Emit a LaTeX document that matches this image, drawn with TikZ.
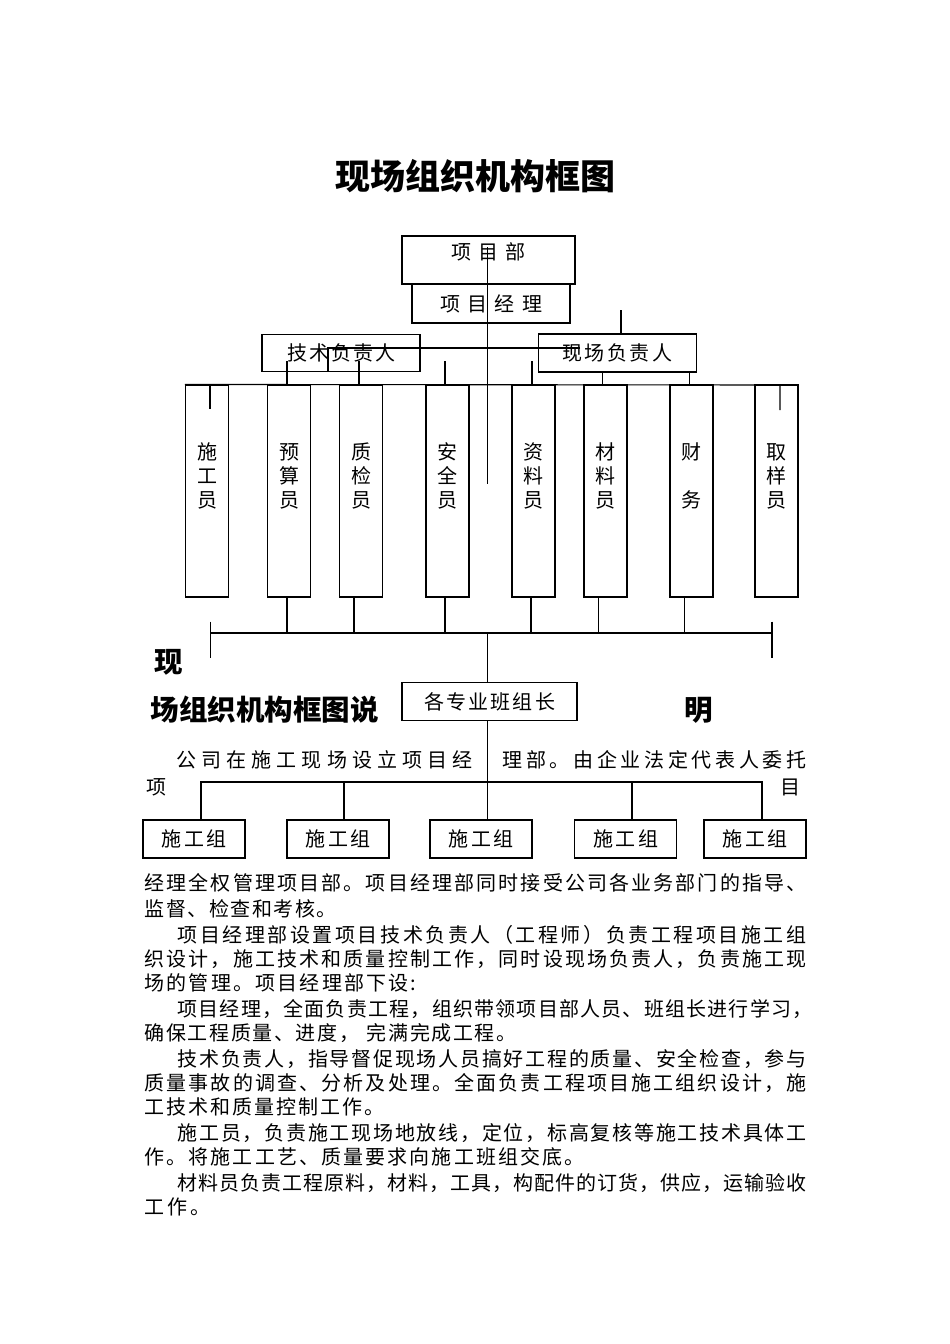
\documentclass[tikz,border=0pt]{standalone}
\usepackage{fontspec}
\setmainfont{Noto Sans CJK SC}
% spread the letters of #2 evenly over the width #1
\newcommand{\spreadtext}[2]{\hbox to #1{\spreadhead#2\relax}}
\def\spreadhead#1{#1\spreadtail}
\def\spreadtail#1{\ifx#1\relax\else\hfil#1\expandafter\spreadtail\fi}
\tikzset{
        % boxes of the chart
        orgbox/.style={draw, inner sep=0pt, font=\fontsize{20}{24}\selectfont},
        % tall boxes of the staff
        tallbox/.style={orgbox, minimum width=43pt, minimum height=212pt},
        % upright text in the tall boxes
        vlabel/.style={align=center, inner sep=0pt, font=\fontsize{20}{24}\selectfont},
        % boxes of the work groups
        groupbox/.style={orgbox, minimum width=102pt, minimum height=38pt},
        % lines of the text
        bodytext/.style={anchor=west, inner sep=0pt, font=\fontsize{20}{24}\selectfont},
        plaintext/.style={inner sep=0pt, font=\fontsize{20}{24}\selectfont},
        % bold headings
        headtext/.style={inner sep=0pt, font=\bfseries\fontsize{28.5}{32}\selectfont}
}
\begin{document}
\begin{tikzpicture}[x=1pt, y=-1pt, line width=1.1pt]
    \useasboundingbox[fill=white] (0,0) rectangle (950,1344);

    \node[headtext, font=\bfseries\fontsize{35}{40}\selectfont] (title) at (475,176) {现场组织机构框图};

    % heads
    \node[orgbox, minimum width=173pt, minimum height=48pt] (xmb) at (488.5,260) {};
    \node[plaintext] (xmbt) at ([yshift=8pt]xmb.center) {\spreadtext{74pt}{项目部}};
    \node[orgbox, minimum width=158pt, minimum height=39pt] (xmjl) at (491,303.5) {\spreadtext{102pt}{项目经理}};
    \node[orgbox, minimum width=158pt, minimum height=37.7pt] (jsfzr) at (341,353) {\spreadtext{108pt}{技术负责人}};
    \node[orgbox, minimum width=158.7pt, minimum height=38pt] (xcfzr) at (617.4,353) {\spreadtext{110pt}{现场负责人}};

    % staff
    \foreach \n/\x/\lbl in {sgy/207/{施\\工\\员}, ysy/289/{预\\算\\员}, zjy/361/{质\\检\\员},
                            aqy/447.5/{安\\全\\员}, zly/533.5/{资\\料\\员}, cly/605.5/{材\\料\\员},
                            cw/691.5/{财\\[24pt]务}, qyy/776.5/{取\\样\\员}}{
        \node[tallbox] (\n) at (\x,491) {};
        \node[vlabel] (\n t) at ([yshift=15pt]\n.center) {\lbl};
    }

    % upper lines
    \coordinate (stemtop) at (487.5,247);
    \coordinate (stemend) at (487.5,484);
    \draw (stemtop) -- (stemend);
    \coordinate (xcup) at (621,310);
    \draw (xcup) -- (xcup |- xcfzr.north);
    \coordinate (jsend) at (580,348);
    \draw (jsend) -| ([xshift=-13pt]jsfzr.south);
    \foreach \n/\x in {ysy/287, zjy/359, aqy/445, zly/532}{
        \coordinate (up\n) at (\x,361);
        \draw (up\n) -- (up\n |- \n.north);
    }
    \draw ([xshift=-14.7pt]xcfzr.south) -- ++(0,13);
    \draw ([xshift=71.9pt]xcfzr.south) -- ++(0,13);
    \coordinate (topend) at (780,385);
    \draw (sgy.north west) -- (topend) -- ++(0,25);
    \draw ([xshift=3pt]sgy.north) -- ++(0,25);

    % lower bus
    \foreach \n/\dx in {ysy/-2, zjy/-7, aqy/-2.5, zly/-2.5, cly/-7.2, cw/-7.2}
        \draw ([xshift=\dx pt]\n.south) -- ++(0,36);
    \coordinate (busl) at (210.7,633);
    \coordinate (busr) at (772,633);
    \coordinate (busm) at (487.3,633);
    \draw (busl) -- (busr);
    \draw ([yshift=11.3pt]busl) -- ([yshift=-25.3pt]busl);
    \draw ([yshift=11.3pt]busr) -- ([yshift=-25.3pt]busr);

    \node[headtext] (xian) at (169,662) {现};
    \node[headtext] (hsm) at (264.5,710) {场组织机构框图说};
    \node[headtext] (ming) at (699,710) {明};

    \node[orgbox, minimum width=175pt, minimum height=38pt] (gzz) at (489.5,701.5) {\spreadtext{131pt}{各专业班组长}};
    \draw (busm) -- (busm |- gzz.north);

    \node[bodytext] (mid1) at (176,760) {\spreadtext{296pt}{公司在施工现场设立项目经}};
    \node[bodytext] (mid2) at (502,760) {\spreadtext{304pt}{理部。由企业法定代表人委托}};
    \node[plaintext] (xiang) at (156,787) {项};
    \node[plaintext] (mu) at (790,787) {目};

    % work groups
    \foreach \i/\x in {1/194, 2/338, 3/481, 4/625.5, 5/755}
        \node[groupbox] (g\i) at (\x,839) {\spreadtext{65pt}{施工组}};
    \coordinate (bus2) at (487.3,782);
    \draw (busm |- gzz.south) -- (busm |- g3.north);
    \draw ([xshift=7pt]g1.north) |- (bus2) -| ([xshift=7pt]g5.north);
    \draw ([xshift=6pt]g2.north) -- ++(0,-38);
    \draw ([xshift=6.5pt]g4.north) -- ++(0,-38);

    % text
    \node[bodytext] (t1) at (144,883) {\spreadtext{662pt}{经理全权管理项目部。项目经理部同时接受公司各业务部门的指导、}};
    \node[bodytext] (t2) at (144,909) {\spreadtext{192pt}{监督、检查和考核。}};
    \node[bodytext] (t3) at (177,935) {\spreadtext{629pt}{项目经理部设置项目技术负责人（工程师）负责工程项目施工组}};
    \node[bodytext] (t4) at (144,959) {\spreadtext{662pt}{织设计，施工技术和质量控制工作，同时设现场负责人，负责施工现}};
    \node[bodytext] (t5) at (144,983) {\spreadtext{272pt}{场的管理。项目经理部下设:}};
    \node[bodytext] (t6) at (177,1009) {\spreadtext{635pt}{项目经理，全面负责工程，组织带领项目部人员、班组长进行学习，}};
    \node[bodytext] (t7) at (144,1033) {\spreadtext{372pt}{确保工程质量、进度，{~}完满完成工程。}};
    \node[bodytext] (t8) at (177,1059) {\spreadtext{629pt}{技术负责人，指导督促现场人员搞好工程的质量、安全检查，参与}};
    \node[bodytext] (t9) at (144,1083) {\spreadtext{662pt}{质量事故的调查、分析及处理。全面负责工程项目施工组织设计，施}};
    \node[bodytext] (t10) at (144,1107) {\spreadtext{240pt}{工技术和质量控制工作。}};
    \node[bodytext] (t11) at (177,1133) {\spreadtext{629pt}{施工员，负责施工现场地放线，定位，标高复核等施工技术具体工}};
    \node[bodytext] (t12) at (144,1157) {\spreadtext{440pt}{作。将施工工艺、质量要求向施工班组交底。}};
    \node[bodytext] (t13) at (177,1183) {\spreadtext{629pt}{材料员负责工程原料，材料，工具，构配件的订货，供应，运输验收}};
    \node[bodytext] (t14) at (144,1207) {\spreadtext{66pt}{工作。}};
\end{tikzpicture}
\end{document}
